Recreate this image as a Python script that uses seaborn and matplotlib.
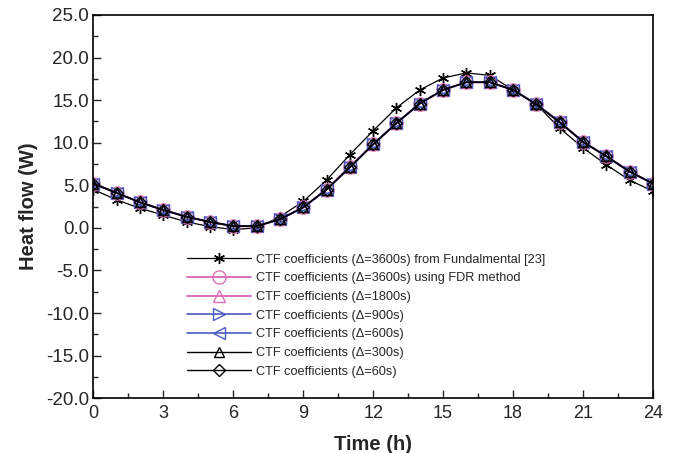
import numpy as np
import pandas as pd
import matplotlib
matplotlib.use("Agg")
import matplotlib.pyplot as plt
import seaborn as sns
from matplotlib.ticker import MultipleLocator, FormatStrFormatter

# Hours
hours = list(range(25))

# CTF from Fundamental [23] (asterisks)
fundamental = [4.5, 3.3, 2.3, 1.5, 0.7, 0.15, -0.2, 0.0, 1.3, 3.1, 5.6, 8.6, 11.4,
               14.1, 16.2, 17.6, 18.2, 17.9, 16.2, 14.5, 11.7, 9.4, 7.4, 5.6, 4.3]

# FDR based CTF coefficients (all time steps nearly coincide)
fdr_3600 = [5.2, 4.1, 3.0, 2.1, 1.3, 0.7, 0.2, 0.2, 1.0, 2.4, 4.5, 7.2, 9.8,
            12.3, 14.6, 16.2, 17.1, 17.1, 16.2, 14.5, 12.4, 10.1, 8.4, 6.6, 5.2]
fdr_1800 = [5.2, 4.1, 3.0, 2.1, 1.3, 0.7, 0.2, 0.2, 1.0, 2.4, 4.5, 7.2, 9.8,
            12.3, 14.6, 16.2, 17.1, 17.1, 16.2, 14.5, 12.4, 10.1, 8.4, 6.6, 5.2]
fdr_900 = [5.2, 4.1, 3.0, 2.1, 1.3, 0.7, 0.2, 0.2, 1.0, 2.4, 4.5, 7.1, 9.8,
           12.3, 14.6, 16.2, 17.1, 17.1, 16.2, 14.5, 12.4, 10.1, 8.4, 6.6, 5.2]
fdr_600 = [5.2, 4.1, 3.0, 2.1, 1.3, 0.7, 0.2, 0.2, 1.0, 2.4, 4.5, 7.1, 9.8,
           12.3, 14.6, 16.2, 17.1, 17.1, 16.2, 14.5, 12.4, 10.1, 8.4, 6.6, 5.2]
fdr_300 = [5.2, 4.1, 3.0, 2.1, 1.3, 0.7, 0.2, 0.2, 1.0, 2.4, 4.5, 7.1, 9.8,
           12.3, 14.6, 16.2, 17.1, 17.1, 16.2, 14.5, 12.4, 10.1, 8.4, 6.6, 5.2]
fdr_60 = [5.2, 4.1, 3.0, 2.1, 1.3, 0.7, 0.2, 0.2, 1.0, 2.4, 4.5, 7.1, 9.8,
          12.3, 14.6, 16.2, 17.1, 17.1, 16.2, 14.5, 12.4, 10.1, 8.4, 6.6, 5.2]

labels = [
    "CTF coefficients (\u0394=3600s) from Fundalmental [23]",
    "CTF coefficients (\u0394=3600s) using FDR method",
    "CTF coefficients (\u0394=1800s)",
    "CTF coefficients (\u0394=900s)",
    "CTF coefficients (\u0394=600s)",
    "CTF coefficients (\u0394=300s)",
    "CTF coefficients (\u0394=60s)",
]

sns.set_style("white")
plt.rcParams['font.family'] = ['Liberation Sans', 'DejaVu Sans']

pink = '#dd6fb8'
blue = '#4b5cc0'

series = [
    (fundamental, (6, 2, 0), 'black', 8, 0.9),
    (fdr_3600, 'o', pink, 9.5, 1.4),
    (fdr_1800, '^', pink, 8.5, 1.4),
    (fdr_900, '>', blue, 8.5, 1.2),
    (fdr_600, '<', blue, 8.5, 1.2),
    (fdr_300, '^', 'black', 7, 1.0),
    (fdr_60, 'D', 'black', 6, 1.0),
]

fig, ax = plt.subplots(figsize=(6.76, 4.53), dpi=100)
for (vals, mk, col, ms, lw), lab in zip(series, labels):
    sns.lineplot(x=hours, y=vals, ax=ax, marker=mk, color=col, label=lab,
                 markersize=ms, markerfacecolor='none', markeredgecolor=col,
                 markeredgewidth=1.0, linewidth=lw)

ax.set_xlim(0, 24)
ax.set_ylim(-20, 25)
ax.xaxis.set_major_locator(MultipleLocator(3))
ax.xaxis.set_minor_locator(MultipleLocator(1.5))
ax.yaxis.set_major_locator(MultipleLocator(5))
ax.yaxis.set_minor_locator(MultipleLocator(2.5))
ax.yaxis.set_major_formatter(FormatStrFormatter('%.1f'))
ax.tick_params(which='both', direction='in', bottom=True, left=True, top=False, right=False)
ax.tick_params(which='major', length=6, width=1, pad=3)
ax.tick_params(axis='y', which='major', labelsize=13.5)
ax.tick_params(axis='x', which='major', labelsize=13, pad=5)
ax.tick_params(which='minor', length=3.5, width=1)
for sp in ax.spines.values():
    sp.set_color('black')
    sp.set_linewidth(1.2)

ax.set_xlabel('Time (h)', fontsize=14.5, fontweight='bold', labelpad=9)
ax.set_ylabel('Heat flow (W)', fontsize=14.5, fontweight='bold', labelpad=6)

ax.legend(loc='upper left', bbox_to_anchor=(0.158, 0.39), frameon=False,
          fontsize=9.2, handlelength=5.0, labelspacing=0.52, handletextpad=0.4,
          borderaxespad=0.0)

plt.subplots_adjust(left=0.138, right=0.966, top=0.967, bottom=0.121)
plt.savefig('out.png', dpi=100)
